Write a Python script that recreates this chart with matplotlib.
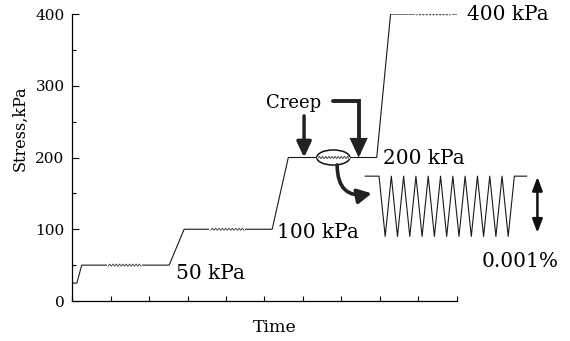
import numpy as np
import matplotlib
matplotlib.use("Agg")
import matplotlib.pyplot as plt
from matplotlib.patches import Ellipse, FancyArrowPatch

plt.rcParams['font.family'] = ['DejaVu Serif']

# Loading path: time (arbitrary units) and stress (kPa) breakpoints
time_pts = [0.02, 0.12, 0.245, 2.52, 2.91, 5.20, 5.62, 7.92, 8.28, 10.0]
stress_pts = [25, 25, 50, 50, 100, 100, 200, 200, 400, 400]

# Cyclic (creep) stages on each plateau: level, start, end
cyc_levels = [50, 100, 200, 400]
cyc_start = [0.93, 3.60, 6.39, 8.96]
cyc_end = [1.79, 4.47, 7.20, 9.83]
cyc_count = 10
cyc_amp = 1.5

# Stage labels
stage_labels = ["50 kPa", "100 kPa", "200 kPa", "400 kPa"]
label_x = [2.70, 5.33, 8.09, 10.26]
label_y = [39, 95, 198, 399]

# Enlarged cycle sketch
zig_teeth = 11
zig_x0, zig_x1 = 7.98, 11.50
zig_top, zig_bottom = 174, 90
zig_lead_in, zig_lead_out = 7.62, 11.82

LABEL_SIZE = 14.5

fig = plt.figure(figsize=(5.7, 3.41), dpi=100)
ax = fig.add_axes([0.1268, 0.1173, 0.6744, 0.8416])

ax.plot(time_pts, stress_pts, color='#1a1a1a', lw=0.8, solid_joinstyle='miter')

# small cycles drawn over each plateau
for lev, s, e in zip(cyc_levels, cyc_start, cyc_end):
    n = cyc_count * 2 + 1
    xs = np.linspace(s, e, n)
    ys = np.where(np.arange(n) % 2 == 0, lev - cyc_amp, lev + cyc_amp)
    ax.plot([s - 0.01, e + 0.01], [lev, lev], color='white', lw=1.5)
    ax.plot(xs, ys, color='#333333', lw=0.6)

for t, x, y in zip(stage_labels, label_x, label_y):
    ax.text(x, y, t, fontsize=LABEL_SIZE, ha='left', va='center', clip_on=False)

# zigzag detail
n = zig_teeth * 2 + 1
zx = np.linspace(zig_x0, zig_x1, n)
zy = np.where(np.arange(n) % 2 == 0, zig_top, zig_bottom)
zx = np.concatenate([[zig_lead_in], zx, [zig_lead_out]])
zy = np.concatenate([[zig_top], zy, [zig_top]])
ax.plot(zx, zy, color='#1a1a1a', lw=0.8, clip_on=False)

# amplitude double arrow
ax.annotate("", xy=(12.10, 173), xytext=(12.10, 95),
            arrowprops=dict(arrowstyle='<|-|>,head_length=0.8,head_width=0.3',
                            color='#111111', lw=1.8, shrinkA=0, shrinkB=0),
            annotation_clip=False)
ax.text(10.64, 55, "0.001%", fontsize=LABEL_SIZE, ha='left', va='center', clip_on=False)

# creep marker
ax.add_patch(Ellipse((6.79, 200), 0.86, 21, fill=False, ec='#111111', lw=1.1))
ax.text(5.75, 276, "Creep", fontsize=13, ha='center', va='center')

head = '-|>,head_length=4.7,head_width=2.2'
ax.add_patch(FancyArrowPatch((6.03, 258), (6.03, 200),
                             arrowstyle=head, mutation_scale=2,
                             color='#222222', lw=2.5, shrinkA=0, shrinkB=0))
ax.add_patch(FancyArrowPatch((6.78, 279.4), (7.45, 200),
                             connectionstyle='angle,angleA=0,angleB=90,rad=0',
                             arrowstyle=head, mutation_scale=2,
                             color='#222222', lw=2.8, shrinkA=0, shrinkB=0,
                             joinstyle='miter'))
ax.add_patch(FancyArrowPatch((6.89, 189.5), (7.79, 150),
                             connectionstyle='arc3,rad=0.6',
                             arrowstyle='-|>,head_length=4.2,head_width=2.2',
                             mutation_scale=2, color='#222222', lw=2.6,
                             shrinkA=0, shrinkB=0, clip_on=False))

ax.set_xlim(0, 10)
ax.set_ylim(0, 400)
ax.set_xticks(np.arange(0, 11, 1))
ax.set_xticklabels([])
ax.set_yticks([0, 100, 200, 300, 400])
ax.set_yticks([50, 150, 250, 350], minor=True)
ax.tick_params(axis='y', which='major', direction='in', length=5, width=0.8,
               labelsize=11, pad=5.5)
ax.tick_params(axis='y', which='minor', direction='in', length=3, width=0.8)
ax.tick_params(axis='x', which='major', direction='in', length=3.5, width=0.8)
for s in ['top', 'right']:
    ax.spines[s].set_visible(False)
for s in ['left', 'bottom']:
    ax.spines[s].set_linewidth(0.9)

fig.text(275 / 570, 1 - 328 / 341, "Time", fontsize=12.5, ha='center', va='center')
fig.text(20 / 570, 1 - 128 / 341, "Stress,kPa", fontsize=11.5, rotation=90,
         ha='center', va='center')

fig.savefig("out.png", dpi=100)
